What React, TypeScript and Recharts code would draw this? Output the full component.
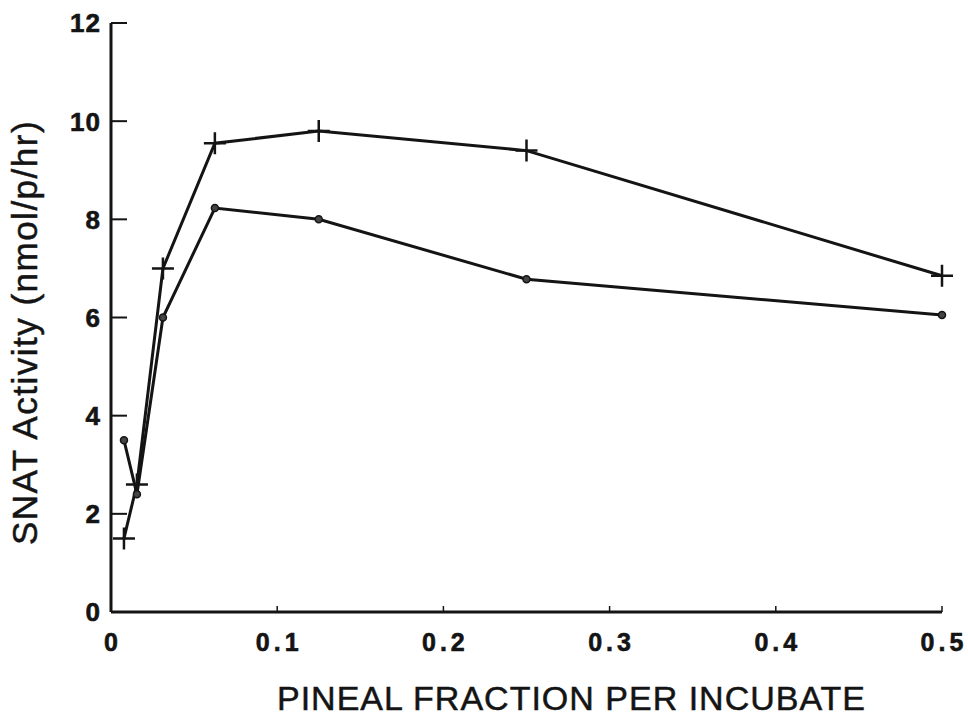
import React from "react"
import { LineChart, Line, XAxis, YAxis, Label } from "recharts"

// pineal fraction per incubate (1/128 ... 1/2)
const fractions = [0.0078, 0.0156, 0.03125, 0.0625, 0.125, 0.25, 0.5]
// "+" markers
const plusSeries = [1.5, 2.6, 7.0, 9.55, 9.8, 9.4, 6.85]
// small dot markers
const dotSeries = [3.5, 2.4, 6.0, 8.23, 8.0, 6.78, 6.05]

const xTicks = [0, 0.1, 0.2, 0.3, 0.4, 0.5]
const yTicks = [0, 2, 4, 6, 8, 10, 12]

const INK = "#141414"
const FONT = "'Liberation Sans', Arial, Helvetica, sans-serif"

const data = fractions.map((f, i) => ({ f, plus: plusSeries[i], dot: dotSeries[i] }))

function PlusDot(props: any) {
  const { cx, cy } = props
  if (cx == null || cy == null) return null
  return (
    <path
      d={`M${cx - 11},${cy}h22M${cx},${cy - 11}v22`}
      stroke={INK}
      strokeWidth={2.5}
      fill="none"
    />
  )
}

function SmallDot(props: any) {
  const { cx, cy } = props
  if (cx == null || cy == null) return null
  return <circle cx={cx} cy={cy} r={3.5} fill="#444" stroke={INK} strokeWidth={1.5} />
}

// ticks point inward, like the printed figure
function YTick(props: any) {
  const { x, y, payload } = props
  return (
    <g>
      <line x1={x} x2={x + 16} y1={y} y2={y} stroke={INK} strokeWidth={2} />
      <text
        x={x - 10}
        y={y}
        dy="0.36em"
        textAnchor="end"
        fontFamily={FONT}
        fontWeight="bold"
        fontSize={26}
        letterSpacing={1}
        fill={INK}
        stroke={INK}
        strokeWidth={0.6}
      >
        {payload.value}
      </text>
    </g>
  )
}

function XTick(props: any) {
  const { x, y, payload } = props
  return (
    <g>
      {payload.value > 0 && (
        <line x1={x} x2={x} y1={y} y2={y - 6} stroke={INK} strokeWidth={1.5} />
      )}
      <text
        x={x + 2}
        y={y + 39}
        textAnchor="middle"
        fontFamily={FONT}
        fontWeight="bold"
        fontSize={25}
        letterSpacing={4}
        fill={INK}
        stroke={INK}
        strokeWidth={0.6}
      >
        {payload.value === 0 ? "0" : payload.value.toFixed(1)}
      </text>
    </g>
  )
}

function YTitle(props: any) {
  const vb = props.viewBox
  const cx = vb.x - 27
  const cy = vb.y + vb.height / 2 + 15
  return (
    <text
      x={cx}
      y={cy}
      transform={`rotate(-90 ${cx} ${cy})`}
      textAnchor="middle"
      dominantBaseline="central"
      fontFamily={FONT}
      fontSize={35}
      letterSpacing={1.5}
      fill={INK}
      stroke={INK}
      strokeWidth={0.5}
    >
      SNAT Activity (nmol/p/hr)
    </text>
  )
}

function XTitle(props: any) {
  const vb = props.viewBox
  return (
    <text
      x={vb.x + vb.width / 2 + 45}
      y={vb.y + 98}
      textAnchor="middle"
      fontFamily={FONT}
      fontSize={34}
      letterSpacing={1}
      fill={INK}
      stroke={INK}
      strokeWidth={0.5}
    >
      PINEAL FRACTION PER INCUBATE
    </text>
  )
}

export default function App() {
  return (
    <div style={{ position: "absolute", left: 0, top: 0, background: "#fff" }}>
      <LineChart
        width={968}
        height={719}
        data={data}
        margin={{ top: 23, right: 26, left: 51, bottom: 67 }}
      >
        <XAxis
          dataKey="f"
          type="number"
          domain={[0, 0.5]}
          ticks={xTicks}
          tick={<XTick />}
          tickSize={0}
          tickMargin={0}
          tickLine={false}
          height={40}
          axisLine={{ stroke: INK, strokeWidth: 3 }}
        >
          <Label content={<XTitle />} />
        </XAxis>
        <YAxis
          type="number"
          domain={[0, 12]}
          ticks={yTicks}
          tick={<YTick />}
          tickSize={0}
          tickMargin={0}
          tickLine={false}
          width={60}
          axisLine={{ stroke: INK, strokeWidth: 3 }}
        >
          <Label content={<YTitle />} />
        </YAxis>
        <Line
          type="linear"
          dataKey="plus"
          stroke={INK}
          strokeWidth={3}
          dot={<PlusDot />}
          activeDot={false}
          isAnimationActive={false}
        />
        <Line
          type="linear"
          dataKey="dot"
          stroke={INK}
          strokeWidth={3}
          dot={<SmallDot />}
          activeDot={false}
          isAnimationActive={false}
        />
      </LineChart>
    </div>
  )
}
